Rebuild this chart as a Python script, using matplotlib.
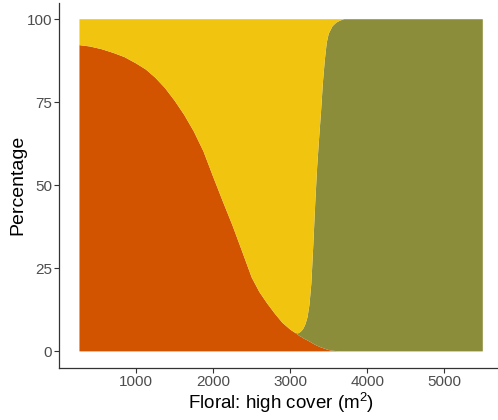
import matplotlib
matplotlib.use("Agg")
import matplotlib.pyplot as plt

plt.rcParams['font.family'] = ['Liberation Sans', 'DejaVu Sans']
plt.rcParams['mathtext.fontset'] = 'custom'
plt.rcParams['mathtext.rm'] = 'Liberation Sans'
plt.rcParams['mathtext.it'] = 'Liberation Sans:italic'

# Data
cover = [265, 400, 550, 700, 850, 1000, 1125, 1250, 1375, 1500, 1625, 1750,
         1875, 2000, 2125, 2250, 2375, 2500, 2600, 2700, 2800, 2900, 3000,
         3050, 3100, 3125, 3150, 3175, 3200, 3225, 3250, 3275, 3300, 3325,
         3350, 3375, 3400, 3425, 3450, 3475, 3500, 3550, 3600, 3650, 3700,
         4000, 4500, 5000, 5500]
low = [92.2, 91.8, 91.0, 89.9, 88.6, 86.7, 84.9, 82.4, 79.3, 75.5, 71.2, 66.2,
       60.2, 52.6, 45.2, 38.0, 30.2, 22.3, 17.9, 14.5, 11.4, 8.6, 6.6,
       5.8, 5.0, 4.6, 4.3, 3.9, 3.6, 3.3, 3.0, 2.65, 2.3, 2.0,
       1.7, 1.45, 1.2, 1.0, 0.8, 0.6, 0.4, 0.2, 0.1, 0.0, 0.0,
       0.0, 0.0, 0.0, 0.0]
high = [0, 0, 0, 0, 0, 0, 0, 0, 0, 0, 0, 0,
        0, 0, 0, 0, 0, 0, 0, 0, 0, 0, 0,
        0, 0.4, 1.1, 1.9, 3.1, 4.7, 7.0, 11.0, 17.85, 29.7, 42.5,
        53.8, 62.55, 70.8, 80.0, 87.0, 92.4, 95.2, 97.7, 98.9, 99.6, 100,
        100, 100, 100, 100]
mid = [100 - a - b for a, b in zip(low, high)]

colors = ['#D35400', '#8B8D3A', '#F1C40F']

fig = plt.figure(figsize=(4.98, 4.20), dpi=100)
ax = fig.add_axes([0.119, 0.1238, 0.891, 0.870])

ax.stackplot(cover, low, high, mid, colors=colors, linewidth=0, antialiased=True)

ax.set_xlim(3, 5762)
ax.set_ylim(-5, 105)
ax.set_xticks([1000, 2000, 3000, 4000, 5000])
ax.set_yticks([0, 25, 50, 75, 100])

for s in ['top', 'right']:
    ax.spines[s].set_visible(False)
for s in ['left', 'bottom']:
    ax.spines[s].set_color('#333333')
    ax.spines[s].set_linewidth(0.9)

ax.tick_params(axis='both', colors='#333333', length=3.5, width=0.8,
               labelsize=11, labelcolor='#4D4D4D', pad=1.5)

ax.set_xlabel('Floral: high cover (m$^{2}$)', fontsize=13.5, color='black',
              va='center', ha='center')
ax.set_ylabel('Percentage', fontsize=14, color='black', va='center', ha='center')
ax.xaxis.set_label_coords(0.5, -0.096)
ax.yaxis.set_label_coords(-0.093, 0.5)

fig.savefig('out.png', dpi=100, facecolor='white')
